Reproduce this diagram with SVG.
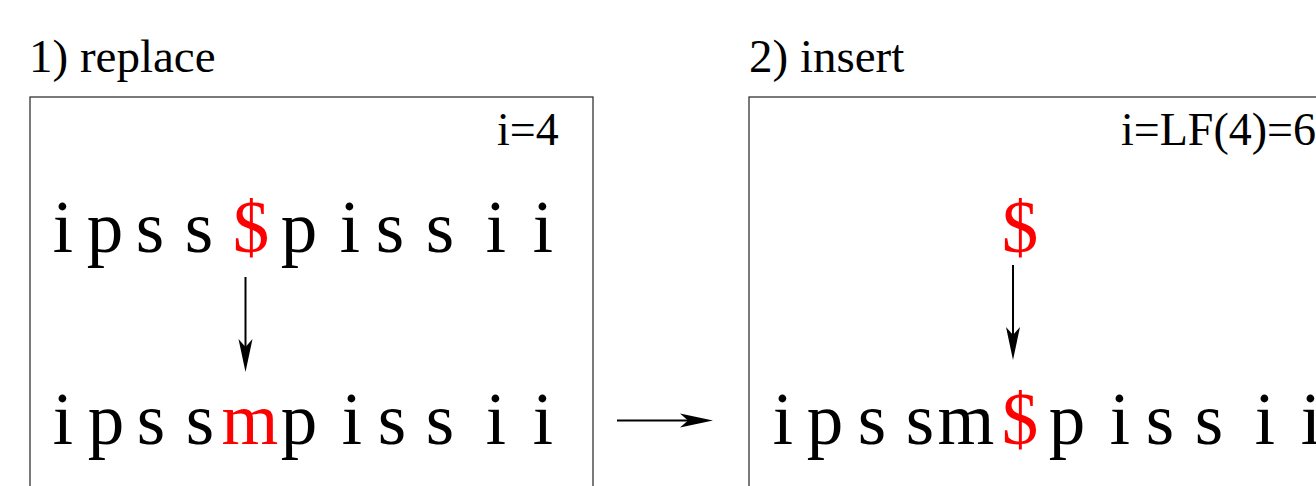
<svg xmlns="http://www.w3.org/2000/svg" width="1316" height="486" viewBox="0 0 1316 486">
<style>
.t{font-family:'Liberation Serif','Times New Roman',Times,serif;fill:#000}
.title{font-size:47px}
.lbl{font-size:46px}
.big{font-size:73px;text-anchor:middle}
.red{fill:#ff0000}
.box{fill:none;stroke:#333;stroke-width:1.3}
.conn{stroke:#000;stroke-width:2;fill:none}
</style>
<defs>
<marker id="ah" viewBox="-34 -8 35 16" refX="-20" refY="0" markerWidth="35" markerHeight="16" markerUnits="userSpaceOnUse" orient="auto">
<path d="M0,0 L-33,-7 L-25,0 L-33,7 Z" fill="#000"/>
</marker>
</defs>
<rect width="1316" height="486" fill="#fff"/>
<g id="replace">
<text class="t title" x="29" y="72">1) replace</text>
<rect class="box" x="30" y="97" width="563" height="420"/>
<text class="t lbl" x="497" y="145">i=4</text>
<g class="t big">
<text x="63" y="252">i</text><text x="105" y="252">p</text><text x="150" y="252">s</text><text x="199" y="252">s</text><text class="red" x="251" y="252">$</text><text x="299" y="252">p</text><text x="350" y="252">i</text><text x="390" y="252">s</text><text x="440" y="252">s</text><text x="496" y="252">i</text><text x="543" y="252">i</text>
</g>
<g class="t big">
<text x="63" y="444">i</text><text x="106" y="444">p</text><text x="151" y="444">s</text><text x="200" y="444">s</text><text class="red" x="250" y="444">m</text><text x="299" y="444">p</text><text x="352" y="444">i</text><text x="392" y="444">s</text><text x="440" y="444">s</text><text x="496" y="444">i</text><text x="543" y="444">i</text>
</g>
</g>
<g id="insert">
<text class="t title" x="749" y="72">2) insert</text>
<rect class="box" x="749" y="97" width="620" height="420"/>
<text class="t lbl" x="1121" y="145">i=LF(4)=6</text>
<text class="t big red" x="1020" y="252">$</text>
<g class="t big">
<text x="783" y="444">i</text><text x="825" y="444">p</text><text x="872" y="444">s</text><text x="920" y="444">s</text><text x="966" y="444">m</text><text class="red" x="1020" y="444">$</text><text x="1067" y="444">p</text><text x="1120" y="444">i</text><text x="1160" y="444">s</text><text x="1209" y="444">s</text><text x="1265" y="444">i</text><text x="1311" y="444">i</text>
</g>
</g>
<g id="connectors">
<line class="conn" x1="245.5" y1="277" x2="245.5" y2="352" marker-end="url(#ah)"/>
<line class="conn" x1="1013" y1="265" x2="1013" y2="340" marker-end="url(#ah)"/>
<line class="conn" x1="617" y1="420.5" x2="693" y2="420.5" marker-end="url(#ah)"/>
</g>
</svg>
